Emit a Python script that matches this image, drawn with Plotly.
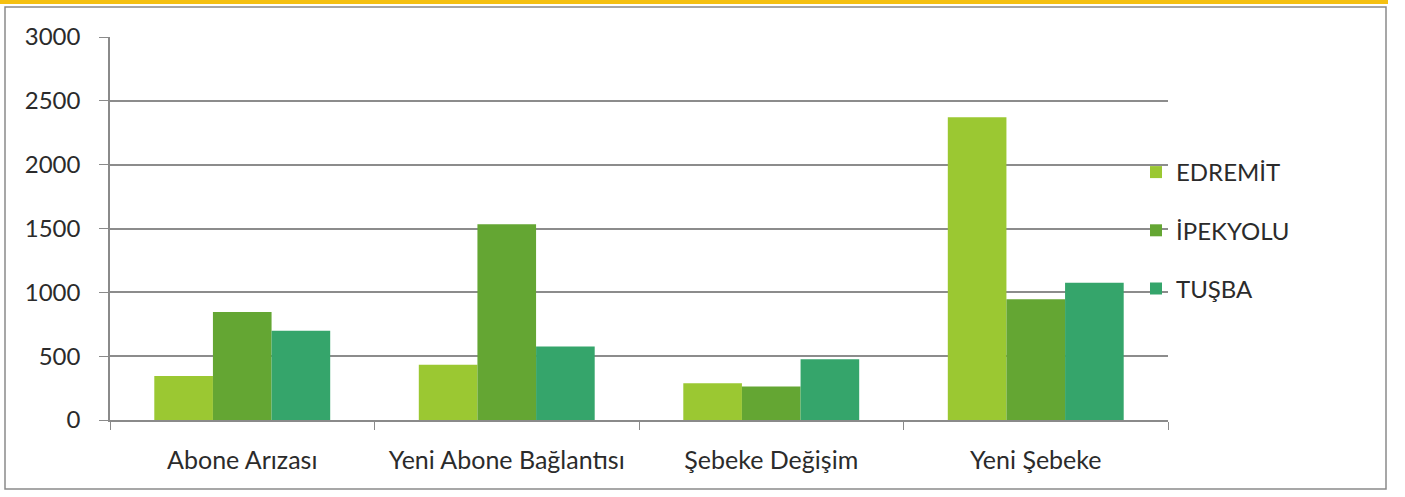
import plotly.graph_objects as go

categories = ["Abone Arızası", "Yeni Abone Bağlantısı", "Şebeke Değişim", "Yeni Şebeke"]
series_names = ["EDREMİT", "İPEKYOLU", "TUŞBA"]
edremit = [345, 432, 288, 2372]
ipekyolu = [846, 1533, 262, 945]
tusba = [700, 575, 476, 1075]
y_ticks = [0, 500, 1000, 1500, 2000, 2500, 3000]

colors = ["#9BC832", "#64A633", "#35A56B"]
W, H = 1405, 497
L, R, T, B = 110, 1168, 37, 420
font = "Lato, 'Open Sans', sans-serif"
txt = "#2b2b2b"

fig = go.Figure()
for i, (name, vals) in enumerate(zip(series_names, [edremit, ipekyolu, tusba])):
    fig.add_trace(go.Bar(x=categories, y=vals, name=name, marker_color=colors[i],
                         marker_line_width=0, legendgroup=name))

def px_x(p):
    return (p - L) / (R - L)

def px_y(p):
    return (B - p) / (B - T)

shapes = [
    dict(type="rect", xref="paper", yref="paper", x0=px_x(5), x1=px_x(1386), y0=px_y(489), y1=px_y(7),
         line=dict(color="#8a8a8a", width=1.5), fillcolor="rgba(0,0,0,0)", layer="below"),
    dict(type="rect", xref="paper", yref="paper", x0=px_x(0), x1=px_x(1388), y0=px_y(4), y1=px_y(0),
         line=dict(width=0), fillcolor="#F5C011", layer="below"),
]

fig.update_layout(
    width=W, height=H,
    margin=dict(l=L, r=W - R, t=T, b=H - B),
    paper_bgcolor="white", plot_bgcolor="white",
    bargap=0.335, bargroupgap=0,
    font=dict(family=font, size=24, color=txt),
    shapes=shapes,
    legend=dict(x=px_x(1136), y=px_y(150), xanchor="left", yanchor="top",
                font=dict(size=24, color=txt), tracegroupgap=24,
                itemwidth=30, bgcolor="rgba(0,0,0,0)"),
    showlegend=True,
)
fig.update_xaxes(showline=True, linecolor="#8a8a8a", linewidth=1.5, ticks="outside",
                 tickson="boundaries", ticklen=8, tickcolor="#8a8a8a", showgrid=False,
                 ticklabelstandoff=17, tickfont=dict(size=25, color=txt))
fig.update_yaxes(range=[0, 3000], tickvals=y_ticks, showline=True, linecolor="#8a8a8a", linewidth=1.5,
                 ticks="outside", ticklen=9, tickcolor="#8a8a8a", gridcolor="#8c8c8c", gridwidth=1.5,
                 zeroline=False, ticklabelstandoff=14, tickfont=dict(size=24, color=txt))

fig.write_html("out.html", config={"displayModeBar": False},
               post_script="document.body.style.margin='0';")
